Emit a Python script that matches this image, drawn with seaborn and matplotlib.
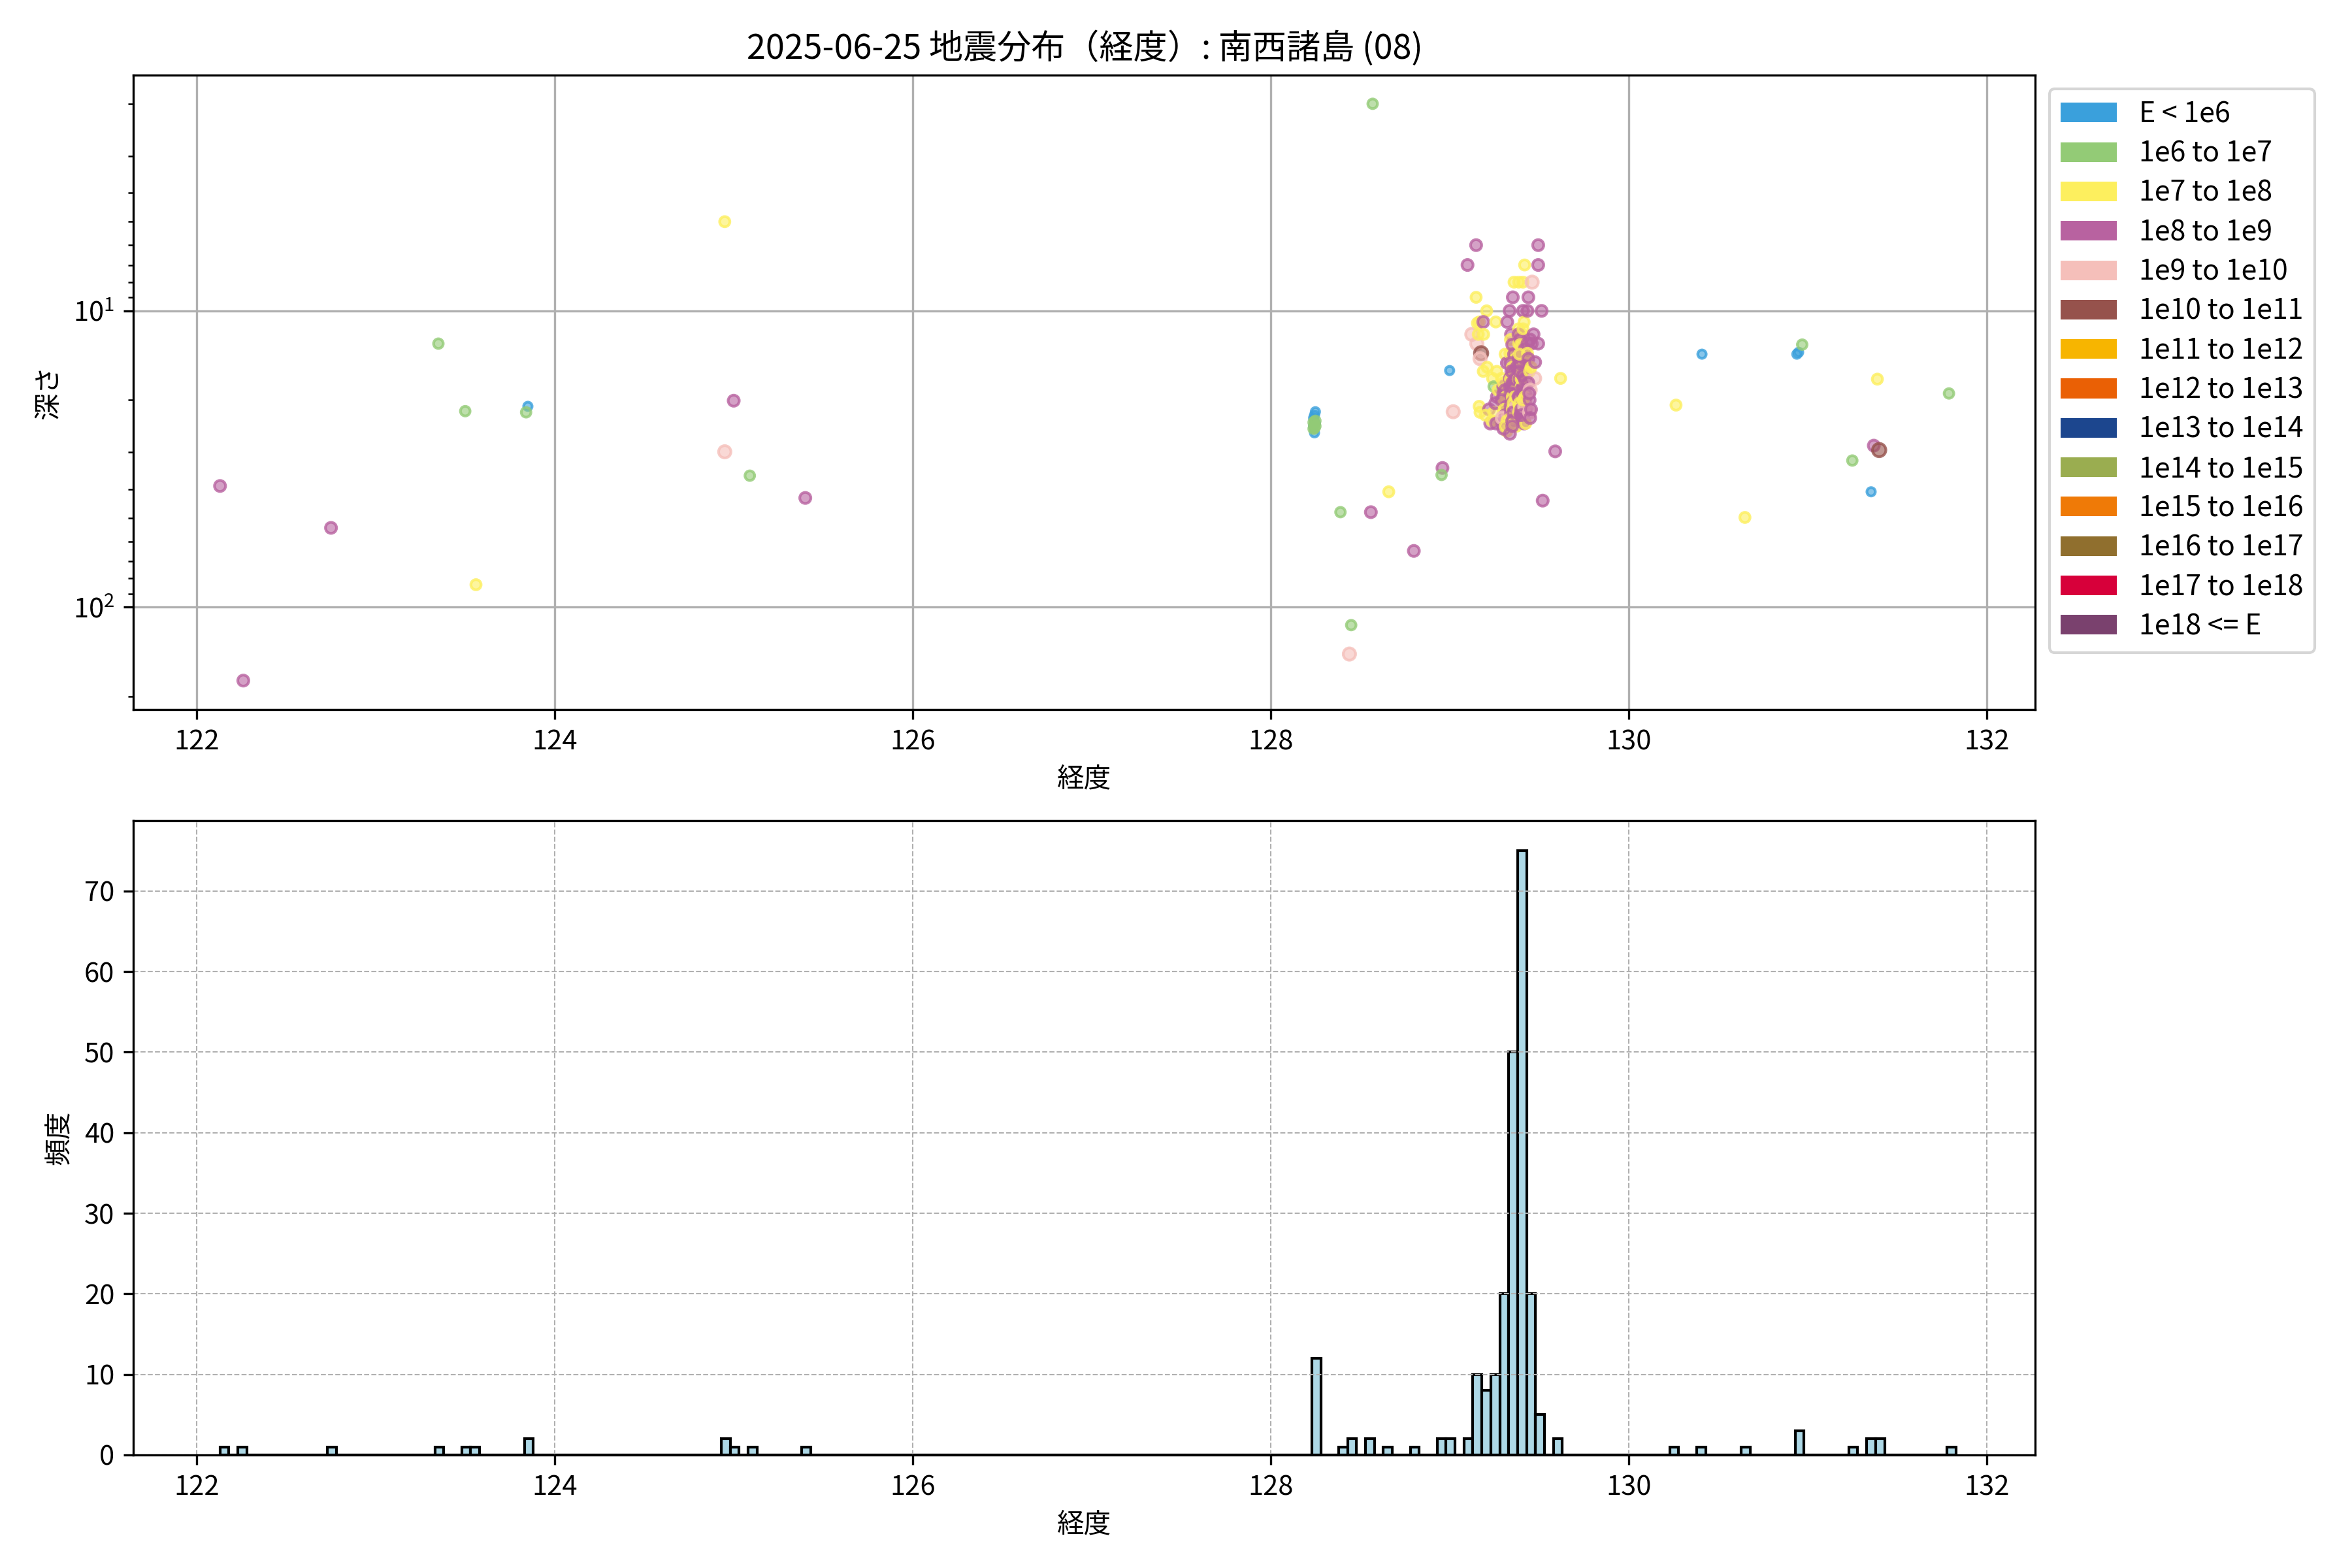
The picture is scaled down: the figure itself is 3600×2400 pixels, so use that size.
import matplotlib
matplotlib.use("Agg")
import matplotlib.pyplot as plt
from matplotlib.patches import Patch
import numpy as np
import pandas as pd
import seaborn as sns

plt.rcParams['font.family'] = ['Noto Sans CJK JP', 'DejaVu Sans']
plt.rcParams['axes.unicode_minus'] = False

# ---------------- data ----------------
title_text = "2025-06-25 地震分布（経度）: 南西諸島 (08)"

class_labels = ["E < 1e6", "1e6 to 1e7", "1e7 to 1e8", "1e8 to 1e9", "1e9 to 1e10",
                "1e10 to 1e11", "1e11 to 1e12", "1e12 to 1e13", "1e13 to 1e14",
                "1e14 to 1e15", "1e15 to 1e16", "1e16 to 1e17", "1e17 to 1e18", "1e18 <= E"]
class_colors = ["#3aa0dc", "#93cb76", "#fdef5e", "#b862a0", "#f5bfba",
                "#96524c", "#f7b500", "#ea6005", "#1c468e",
                "#9aad50", "#ef7a07", "#906f2e", "#d7003a", "#7a416e"]
class_sizes = [9.5, 12.5, 14.0, 16.5, 20.5, 24.0, 27.0, 30.0, 33.0, 36.0, 39.0, 42.0, 45.0, 48.0]

# longitude of each event
lon = [
    122.13, 122.26, 122.75, 123.35, 123.50, 123.56, 123.85, 123.84, 124.95, 124.95, 125.00, 125.09, 125.40,
    128.25, 128.24, 128.245, 128.24, 128.25, 128.245, 128.245, 128.24, 128.25, 128.245, 128.24, 128.25,
    128.39, 128.45, 128.44, 128.57, 128.56, 128.66, 128.80, 128.96, 128.955, 129.00, 129.02, 129.10, 129.124,
    129.148, 129.148, 129.166, 129.152, 129.176, 129.17, 129.16, 129.155, 129.17, 129.165,
    129.207, 129.188, 129.19, 129.188, 129.227, 129.21, 129.22, 129.20,
    129.258, 129.264, 129.24, 129.246, 129.264, 129.246, 129.235, 129.255, 129.27, 129.26,
    129.322, 129.29, 129.30, 129.30, 129.30, 129.294, 129.319, 129.31, 129.32, 129.30,
    129.31, 129.315, 129.29, 129.32, 129.305, 129.31, 129.295, 129.32, 129.30, 129.31,
    129.36, 129.353, 129.335, 129.343, 129.337, 129.362, 129.374, 129.355, 129.337, 129.374,
    129.337, 129.374, 129.349, 129.343, 129.349, 129.374, 129.337, 129.34, 129.35, 129.36,
    129.37, 129.34, 129.35, 129.36, 129.37, 129.34, 129.35, 129.36, 129.37, 129.34,
    129.35, 129.36, 129.37, 129.34, 129.35, 129.36, 129.37, 129.34, 129.35, 129.36,
    129.37, 129.345, 129.355, 129.365, 129.375, 129.345, 129.355, 129.365, 129.375, 129.35,
    129.386, 129.41, 129.419, 129.41, 129.416, 129.404, 129.386, 129.398, 129.41, 129.422,
    129.41, 129.422, 129.398, 129.422, 129.386, 129.41, 129.416, 129.385, 129.395, 129.405,
    129.415, 129.425, 129.385, 129.395, 129.405, 129.415, 129.425, 129.385, 129.395, 129.405,
    129.415, 129.425, 129.385, 129.395, 129.405, 129.415, 129.425, 129.385, 129.395, 129.405,
    129.415, 129.425, 129.385, 129.395, 129.405, 129.415, 129.425, 129.39, 129.40, 129.41,
    129.42, 129.39, 129.40, 129.41, 129.42, 129.39, 129.40, 129.41, 129.42, 129.39,
    129.40, 129.41, 129.42, 129.39, 129.40, 129.41, 129.42, 129.39, 129.40, 129.41,
    129.42, 129.39, 129.40, 129.41, 129.42,
    129.461, 129.44, 129.435, 129.435, 129.459, 129.435, 129.447, 129.447, 129.447, 129.469,
    129.475, 129.45, 129.44, 129.455, 129.44, 129.45, 129.445, 129.478, 129.455, 129.45,
    129.495, 129.495, 129.514, 129.495, 129.52, 129.59, 129.62,
    130.265, 130.41, 130.65, 130.94, 130.95, 130.97, 131.25, 131.355, 131.37, 131.39, 131.40, 131.79,
]

# depth (km) of each event
depth = [
    39, 177, 54, 12.9, 21.8, 84, 21, 22, 5.0, 29.9, 20.1, 36, 42.8,
    21.9, 23.0, 25.8, 24.5, 24.0, 22.5, 24.2, 25.0, 23.5, 24.8, 23.8, 24.5,
    47.8, 115, 144, 2.0, 47.8, 40.8, 64.6, 33.9, 35.8, 15.9, 21.9, 7.0, 12.0,
    6.0, 9.0, 10.9, 12.9, 13.9, 22.0, 12.0, 11.0, 14.5, 21.0,
    10.0, 10.9, 12.0, 16.0, 24.0, 15.5, 21.5, 22.5,
    10.9, 16.0, 16.9, 18.0, 19.5, 22.0, 23.5, 20.5, 18.5, 24.0,
    10.9, 16.9, 18.0, 19.0, 20.6, 24.0, 25.5, 14.0, 15.0, 17.5,
    18.5, 19.5, 20.0, 21.0, 21.5, 22.5, 23.0, 23.5, 25.0, 24.5,
    8.0, 9.0, 10.0, 12.0, 13.9, 13.9, 14.9, 16.0, 16.9, 16.9,
    18.0, 18.0, 19.5, 22.0, 23.5, 24.5, 26.0, 12.5, 13.0, 14.0,
    14.5, 15.0, 15.5, 16.0, 16.5, 17.0, 17.5, 18.0, 18.5, 19.0,
    19.5, 20.0, 20.5, 21.0, 21.5, 22.0, 22.5, 23.0, 23.5, 24.0,
    19.0, 18.0, 20.5, 17.0, 21.0, 16.0, 22.0, 19.5, 15.5, 24.5,
    8.0, 8.0, 7.0, 10.0, 10.9, 12.0, 12.9, 13.9, 14.9, 16.0,
    16.9, 18.0, 19.5, 20.0, 20.6, 22.0, 24.0, 11.5, 12.5, 13.0,
    13.5, 14.0, 14.5, 15.0, 15.5, 16.0, 16.5, 17.0, 17.5, 18.0,
    18.5, 19.0, 19.5, 20.0, 20.5, 21.0, 21.5, 22.0, 22.5, 23.0,
    23.5, 24.0, 12.0, 13.0, 14.0, 15.0, 16.0, 17.0, 18.0, 19.0,
    20.0, 21.0, 22.0, 15.5, 17.5, 19.5, 16.5, 18.0, 14.5, 20.5,
    21.5, 11.5, 13.5, 15.0, 17.0, 19.0, 21.0, 16.0, 18.5, 20.0,
    17.0, 14.0, 22.5, 16.5, 19.5,
    8.0, 9.0, 10.0, 12.9, 12.9, 13.9, 16.0, 20.0, 22.0, 12.0,
    16.9, 12.5, 14.5, 15.5, 17.5, 18.5, 19.0, 14.9, 21.5, 23.0,
    6.0, 7.0, 10.0, 12.9, 43.7, 29.8, 16.9,
    20.8, 14.0, 49.8, 14.0, 13.8, 13.0, 32.0, 40.8, 28.5, 17.0, 29.5, 19.0,
]

# energy class index (into class_labels) of each event
energy = [
    3, 3, 3, 1, 1, 2, 0, 1, 2, 4, 3, 1, 3,
    0, 0, 0, 0, 0, 0, 1, 1, 1, 1, 1, 1,
    1, 1, 4, 1, 3, 2, 3, 3, 1, 0, 4, 3, 4,
    3, 2, 2, 4, 5, 2, 2, 2, 4, 2,
    2, 3, 2, 2, 3, 2, 3, 2,
    2, 2, 2, 1, 3, 2, 2, 3, 2, 3,
    3, 2, 3, 3, 2, 3, 2, 2, 3, 2,
    3, 2, 3, 3, 2, 3, 4, 2, 3, 2,
    2, 3, 3, 3, 2, 2, 2, 3, 3, 3,
    3, 3, 3, 3, 3, 2, 3, 2, 3, 3,
    2, 3, 2, 3, 3, 2, 3, 3, 2, 3,
    2, 3, 4, 3, 2, 3, 3, 2, 3, 2,
    3, 3, 2, 3, 4, 3, 3, 2, 3, 3,
    2, 2, 2, 3, 2, 2, 2, 3, 2, 2,
    2, 3, 4, 4, 2, 5, 3, 2, 3, 2,
    3, 2, 3, 3, 2, 3, 3, 2, 3, 3,
    2, 3, 3, 2, 3, 4, 3, 2, 3, 3,
    3, 2, 3, 2, 3, 3, 2, 3, 2, 3,
    3, 2, 3, 2, 3, 3, 2, 3, 3, 2,
    3, 2, 3, 3, 2, 3, 4, 3, 3, 2,
    3, 2, 3, 3, 2,
    4, 3, 3, 3, 3, 2, 2, 3, 4, 3,
    4, 3, 3, 2, 3, 4, 3, 3, 3, 3,
    3, 3, 3, 3, 3, 3, 2,
    2, 0, 2, 0, 0, 1, 1, 0, 3, 2, 5, 1,
]

hist_binwidth = 0.05
hist_binrange = (122.13, 131.83)

# ---------------- plot ----------------
df = pd.DataFrame({
    "lon": lon,
    "depth": depth,
    "cls": [class_labels[i] for i in energy],
})

fig, (ax1, ax2) = plt.subplots(2, 1, figsize=(12, 8), dpi=300)
fig.subplots_adjust(left=0.0568, right=0.8654, top=0.9522, bottom=0.0721, hspace=0.175)

palette = dict(zip(class_labels, class_colors))
size_map = dict(zip(class_labels, class_sizes))
used = [l for l in class_labels if l in set(df["cls"])]

sns.scatterplot(data=df, x="lon", y="depth", hue="cls", size="cls",
                hue_order=used, size_order=used, palette=palette, sizes=size_map,
                linewidth=1.0, edgecolor="face", legend=False, ax=ax1, zorder=3)
coll = ax1.collections[0]
fc = np.array(coll.get_facecolors())
ec = fc.copy()
fc[:, 3] = 0.6
ec[:, 3] = 0.8
coll.set_facecolors(fc)
coll.set_edgecolors(ec)

ax1.set_yscale("log")
ax1.invert_yaxis()
ax1.grid(True)
ax1.set_xlabel("経度", fontsize=10)
ax1.set_ylabel("深さ", fontsize=10)
ax1.set_title(title_text, fontsize=12.5)

handles = [Patch(facecolor=c, label=l) for c, l in zip(class_colors, class_labels)]
ax1.legend(handles=handles, loc="upper left", bbox_to_anchor=(1.0, 1.0), fontsize=10.3,
           labelspacing=0.38)

sns.histplot(x=lon, binwidth=hist_binwidth, binrange=hist_binrange, color="lightblue",
             edgecolor="black", linewidth=1.0, alpha=1.0, ax=ax2)
ax2.grid(True, linestyle="--", linewidth=0.5)
ax2.set_xlabel("経度", fontsize=10)
ax2.set_ylabel("頻度", fontsize=10)
ax2.set_xlim(ax1.get_xlim())

for ax in (ax1, ax2):
    ax.tick_params(labelsize=10)

fig.savefig("out.png", dpi=300)
